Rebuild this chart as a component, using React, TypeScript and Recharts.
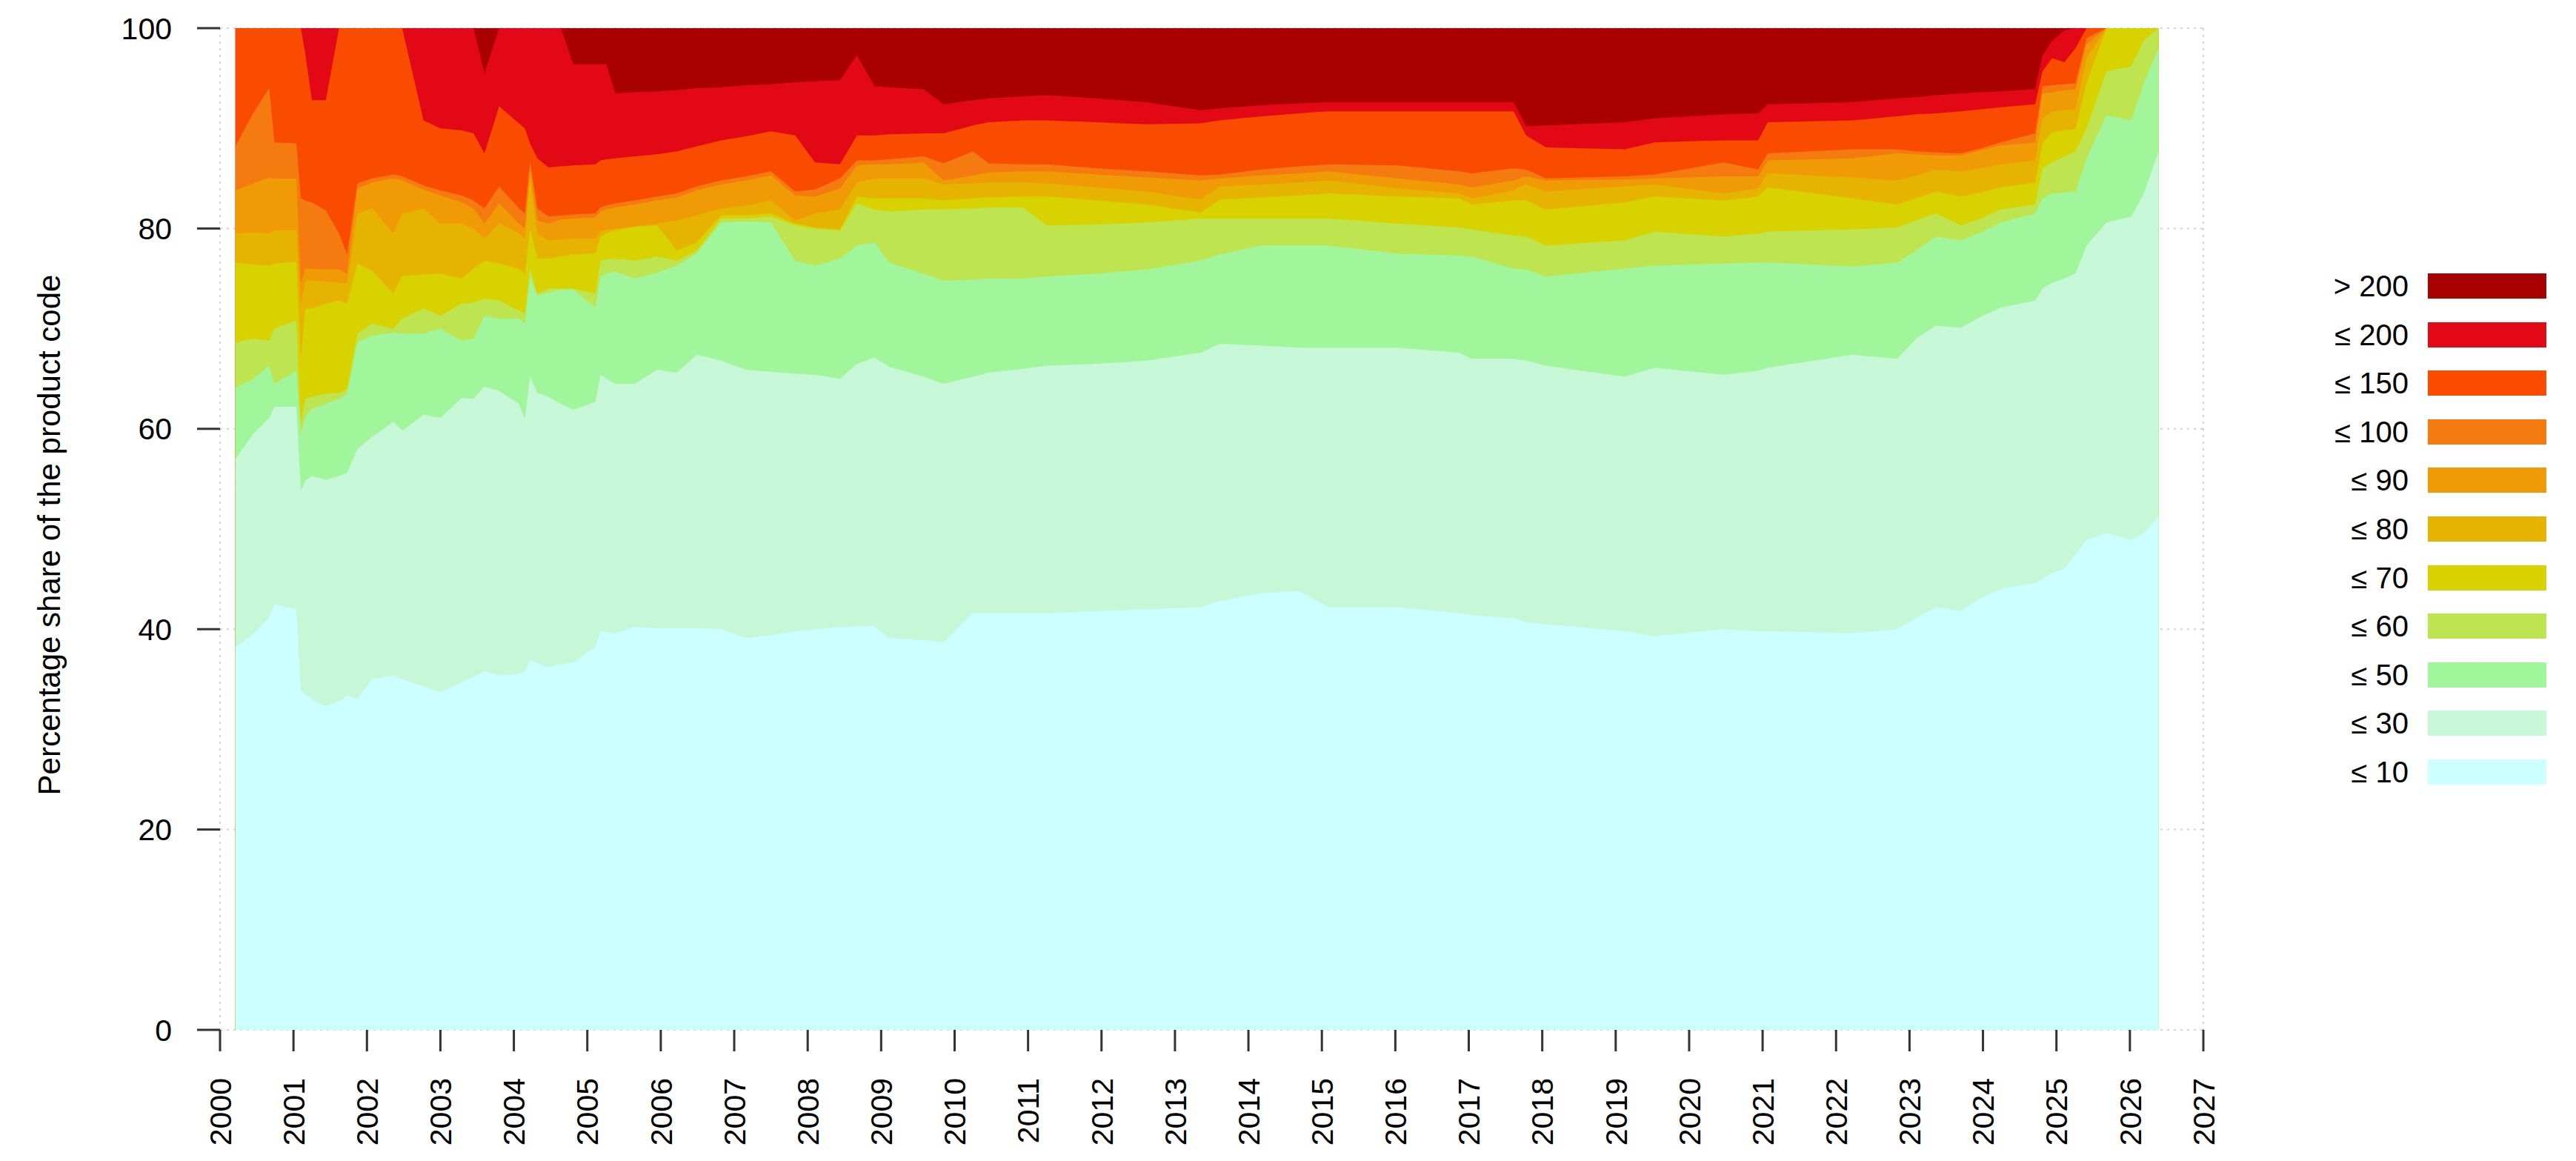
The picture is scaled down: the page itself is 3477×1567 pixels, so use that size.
import React from 'react';
import { AreaChart, Area, XAxis, YAxis, CartesianGrid } from 'recharts';

// sample dates (decimal years)
const years = [
  2000.21, 2000.45, 2000.67, 2000.74, 2001.04, 2001.1, 2001.16, 2001.25, 2001.44, 2001.62, 2001.73, 2001.87, 2002.07,
  2002.36, 2002.48, 2002.77, 2003.0, 2003.29, 2003.45, 2003.6, 2003.8, 2004.07, 2004.15, 2004.22, 2004.32, 2004.47,
  2004.64, 2004.81, 2005.11, 2005.18, 2005.26, 2005.38, 2005.65, 2005.95, 2006.22, 2006.49, 2006.82, 2007.16, 2007.5,
  2007.83, 2008.1, 2008.44, 2008.67, 2008.91,
  2009.11, 2009.58, 2009.85, 2010.25, 2010.46, 2010.93, 2011.26, 2011.94, 2012.61, 2013.35,
  2013.61, 2014.18, 2014.69, 2015.09, 2016.03, 2016.87, 2017.04, 2017.61,
  2017.78, 2018.05, 2019.12, 2019.53, 2020.47, 2020.94, 2021.07, 2022.22,
  2022.83, 2023.09, 2023.36, 2023.7, 2023.97, 2024.24, 2024.71, 2024.81, 2024.94, 2025.11, 2025.26, 2025.41, 2025.68,
  2026.02, 2026.19, 2026.39,
];

// cumulative share (%) of codes at or below each threshold
const le10 = [
  38.2, 39.5, 41.2, 42.5, 42.0, 33.8, 33.5, 33.0, 32.3, 32.8, 33.4, 33.0, 35.0, 35.4, 35.0, 34.3, 33.7, 34.7, 35.2, 35.8,
  35.4, 35.5, 35.8, 36.9, 36.6, 36.2,
  36.5, 36.7, 38.2, 39.8, 39.7, 39.6, 40.2, 40.1, 40.1, 40.1, 40.0, 39.1, 39.4, 39.8, 40.0, 40.2, 40.3, 40.3,
  39.1, 38.9, 38.7, 41.6, 41.6, 41.6, 41.6, 41.8, 42.0, 42.2,
  42.8, 43.6, 43.8, 42.2, 42.2, 41.6, 41.4, 41.1,
  40.7, 40.5, 39.8, 39.3, 40.0, 39.8, 39.8, 39.6,
  40.0, 41.1, 42.2, 41.8, 43.1, 44.0, 44.6, 45.0, 45.6, 46.0, 47.5, 48.9, 49.6, 48.9, 49.6, 51.3,
];
const le30 = [
  57.0, 59.5, 61.1, 62.2, 62.2, 53.8, 54.8, 55.3, 54.9, 55.3, 55.6, 58.0, 59.2, 60.7, 59.8, 61.4, 61.1, 63.1, 63.0, 64.2,
  63.8, 62.5, 61.0, 65.2, 63.6, 63.2,
  62.5, 61.9, 62.7, 65.4, 65.0, 64.5, 64.5, 65.9, 65.6, 67.4, 66.8, 65.9, 65.7, 65.5, 65.4, 65.0, 66.5, 67.1,
  66.2, 65.2, 64.5, 65.2, 65.6, 66.0, 66.3, 66.5, 66.8, 67.6,
  68.5, 68.3, 68.1, 68.1, 68.1, 67.6, 67.0, 67.0,
  66.8, 66.3, 65.2, 66.1, 65.4, 65.8, 66.1, 67.4,
  67.0, 69.0, 70.3, 70.1, 71.2, 72.1, 72.8, 74.0, 74.6, 75.0, 75.5, 78.3, 80.6, 81.2, 83.5, 87.7,
];
const le50 = [
  64.1, 65.0, 66.3, 64.5, 65.8, 59.5, 61.2, 62.0, 62.5, 63.0, 63.5, 68.6, 69.3, 69.6, 69.5, 69.5, 70.0, 68.8, 69.0, 71.3,
  71.0, 71.0, 70.5, 75.1, 73.3, 73.6,
  73.9, 73.9, 72.1, 75.2, 75.5, 75.7, 75.0, 75.6, 76.3, 77.5, 80.6, 80.7, 80.6, 76.8, 76.3, 77.0, 78.3, 78.6,
  76.6, 75.5, 74.8, 74.9, 75.0, 75.0, 75.2, 75.5, 75.9, 76.8,
  77.4, 78.3, 78.3, 78.3, 77.5, 77.3, 77.2, 76.0,
  75.9, 75.2, 76.0, 76.3, 76.5, 76.6, 76.6, 76.2,
  76.6, 77.8, 79.2, 78.8, 79.6, 80.6, 81.5, 83.0, 83.5, 83.6, 83.7, 87.0, 91.3, 90.8, 94.5, 98.0,
];
const le60 = [
  68.6, 69.0, 68.8, 70.0, 70.8, 60.5, 63.0, 63.2, 63.5, 63.6, 64.0, 69.5, 70.5, 70.0, 71.0, 72.0, 71.3, 72.5, 72.6, 73.0,
  72.8, 71.8, 71.5, 76.0, 73.5, 74.0,
  74.0, 74.0, 73.5, 76.8, 76.9, 77.0, 76.8, 77.2, 76.8, 77.8, 81.0, 81.0, 81.2, 80.3, 80.0, 79.8, 82.5, 81.9,
  81.7, 81.9, 81.9, 82.0, 82.1, 82.1, 80.3, 80.4, 80.6, 81.0,
  81.0, 81.0, 81.0, 81.0, 80.5, 80.1, 79.9, 79.3,
  79.2, 78.3, 78.8, 79.7, 79.2, 79.5, 79.7, 79.9,
  80.1, 80.8, 81.5, 80.3, 81.0, 81.9, 82.4, 86.0, 86.6, 87.2, 87.7, 90.0, 95.7, 96.2, 98.8, 100,
];
const le70 = [
  76.6, 76.4, 76.3, 76.5, 76.7, 67.0, 72.0, 72.0, 72.5, 72.8, 72.5, 76.5, 75.8, 73.5, 75.3, 75.4, 75.5, 75.0, 76.0, 76.8,
  76.5, 76.0, 75.5, 80.0, 77.0, 77.0,
  77.2, 77.4, 77.5, 79.2, 79.5, 79.8, 80.2, 80.3, 77.8, 78.6, 81.3, 81.3, 81.5, 80.5, 80.1, 79.9, 83.2, 83.0,
  83.0, 83.0, 82.8, 83.0, 83.1, 83.2, 83.2, 82.8, 82.4, 81.6,
  82.9, 83.1, 83.3, 83.5, 83.2, 83.0, 82.4, 82.8,
  82.8, 81.9, 82.6, 83.2, 82.8, 83.2, 84.1, 83.0,
  82.4, 83.0, 83.7, 83.2, 83.6, 84.1, 84.6, 88.5, 89.6, 89.8, 89.9, 94.5, 100, 100, 100, 100,
];
const le80 = [
  79.5, 79.6, 79.5, 79.8, 79.8, 72.5, 74.8, 74.8, 74.7, 74.6, 74.5, 81.5, 82.0, 79.5, 81.5, 82.0, 80.5, 80.5, 80.0, 79.0,
  80.5, 79.5, 79.0, 85.0, 79.5, 78.8,
  78.9, 79.0, 79.0, 79.7, 79.9, 80.0, 80.2, 80.5, 80.8, 81.3, 82.0, 82.3, 82.8, 80.8, 81.5, 81.9, 84.6, 85.0,
  85.0, 85.0, 84.4, 84.5, 84.6, 84.6, 84.5, 84.1, 83.7, 82.9,
  84.2, 84.4, 84.6, 84.8, 84.0, 83.5, 83.0, 83.8,
  84.4, 83.7, 84.2, 84.4, 83.5, 84.0, 85.5, 85.1,
  84.8, 85.3, 85.9, 85.7, 86.0, 86.4, 86.8, 91.0, 91.7, 91.8, 91.9, 97.0, 100, 100, 100, 100,
];
const le90 = [
  83.8, 84.5, 85.1, 85.0, 85.0, 74.5, 76.0, 76.0, 75.9, 75.9, 75.5, 84.0, 84.6, 85.0, 84.8, 83.9, 83.3, 82.6, 82.0, 80.5,
  82.5, 80.5, 80.0, 86.0, 80.8, 80.5,
  80.9, 81.0, 81.1, 81.7, 81.9, 82.1, 82.4, 82.8, 83.1, 83.8, 84.4, 84.8, 85.3, 83.3, 83.2, 84.0, 86.3, 86.4,
  86.4, 86.6, 84.8, 85.3, 85.6, 85.7, 85.7, 85.4, 85.1, 84.8,
  85.0, 85.3, 85.5, 85.7, 85.0, 84.4, 84.1, 84.8,
  85.2, 84.8, 84.9, 85.0, 85.2, 85.2, 86.8, 87.0,
  87.5, 87.4, 87.3, 87.3, 87.8, 88.3, 88.6, 93.5, 93.6, 93.8, 93.9, 98.4, 100, 100, 100, 100,
];
const le100 = [
  88.2, 91.5, 94.0, 88.6, 88.5, 83.0, 82.8, 82.6, 81.8, 79.5, 77.4, 84.5, 85.0, 85.4, 85.2, 84.3, 83.8, 83.3, 82.8, 82.0,
  84.2, 82.0, 81.5, 86.7, 82.0, 81.2,
  81.3, 81.4, 81.5, 82.1, 82.3, 82.5, 82.8, 83.2, 83.5, 84.2, 84.8, 85.2, 85.7, 83.7, 83.9, 85.0, 86.8, 86.8,
  86.9, 87.2, 86.5, 87.7, 86.5, 86.4, 86.4, 86.0, 85.7, 85.3,
  85.4, 85.9, 86.2, 86.4, 86.3, 85.7, 85.5, 86.0,
  85.9, 85.0, 85.2, 85.4, 86.6, 85.9, 87.5, 87.9,
  87.9, 87.7, 87.6, 87.5, 88.0, 88.6, 89.5, 94.2, 94.3, 94.4, 94.5, 99.0, 100, 100, 100, 100,
];
const le150 = [
  100, 100, 100, 100, 100, 100, 97.5, 92.8, 92.8, 100, 100, 100, 100, 100, 100, 90.8, 90.0, 89.8, 89.5, 87.5,
  92.2, 90.5, 90.0, 88.5, 87.0, 86.1,
  86.2, 86.3, 86.4, 86.8, 86.9, 87.0, 87.2, 87.4, 87.7, 88.2, 88.8, 89.2, 89.7, 89.3, 86.6, 86.4, 89.3, 89.3,
  89.4, 89.5, 89.5, 90.3, 90.6, 90.8, 90.8, 90.6, 90.4, 90.5,
  90.8, 91.2, 91.5, 91.7, 91.7, 91.7, 91.7, 91.7,
  89.3, 88.1, 87.9, 88.6, 88.8, 88.8, 90.6, 90.8,
  91.2, 91.4, 91.5, 91.7, 91.9, 92.1, 92.4, 95.7, 97.0, 96.6, 98.0, 100, 100, 100, 100, 100,
];
const le200 = [
  100, 100, 100, 100, 100, 100, 100, 100, 100, 100, 100, 100, 100, 100, 100, 100, 100, 100, 100, 95.5,
  100, 100, 100, 100, 100, 100,
  100, 96.4, 96.4, 96.4, 96.4, 93.5, 93.6, 93.7, 93.8, 94.0, 94.1, 94.3, 94.4, 94.6, 94.7, 94.8, 97.3, 94.2,
  94.1, 93.9, 92.4, 92.8, 93.0, 93.2, 93.3, 93.0, 92.6, 91.8,
  92.0, 92.3, 92.5, 92.6, 92.6, 92.6, 92.6, 92.6,
  90.2, 90.3, 90.6, 91.0, 91.4, 91.5, 92.4, 92.6,
  93.0, 93.1, 93.3, 93.5, 93.6, 93.7, 93.9, 97.3, 98.7, 99.8, 100, 100, 100, 100, 100, 100,
];

const bandLabels = ['≤ 10', '≤ 30', '≤ 50', '≤ 60', '≤ 70', '≤ 80', '≤ 90', '≤ 100', '≤ 150', '≤ 200', '> 200'];
const bandColors = [
  '#CCFFFF', '#C6F7D6', '#A1F59A', '#BEE450', '#D8D200', '#E6B400', '#F09A06', '#F57A10', '#FA4C00', '#E30815', '#A90000',
];

const xTicks = [
  2000, 2001, 2002, 2003, 2004, 2005, 2006, 2007, 2008, 2009, 2010, 2011, 2012, 2013, 2014, 2015, 2016, 2017, 2018, 2019,
  2020, 2021, 2022, 2023, 2024, 2025, 2026, 2027,
];
const yTicks = [0, 20, 40, 60, 80, 100];

const cumulative = [le10, le30, le50, le60, le70, le80, le90, le100, le150, le200];

// each area is filled from 0 up to its cumulative share; the widest one (all codes) is 100 %
const rows = years.map((year, i) => {
  const row: Record<string, number> = { year };
  cumulative.forEach((arr, k) => {
    row[`c${k}`] = arr[i];
  });
  row.c10 = 100;
  return row;
});

const FONT = '"Liberation Sans", Arial, Helvetica, sans-serif';

const XTick = (props: any) => {
  const { x, y, payload } = props;
  return (
    <text
      x={x}
      y={y}
      dy="0.36em"
      transform={`rotate(-90, ${x}, ${y})`}
      textAnchor="end"
      fontSize={41}
      fontFamily={FONT}
      fill="#000"
    >
      {payload.value}
    </text>
  );
};

export default function App() {
  const drawOrder = bandLabels.map((_, i) => i).reverse();
  return (
    <div style={{ position: 'absolute', left: 0, top: 0, width: 3477, height: 1567, background: '#fff', overflow: 'hidden' }}>
      <AreaChart width={3477} height={1567} data={rows} margin={{ top: 38, right: 463, bottom: 27, left: 197 }}>
        <CartesianGrid stroke="#D3D3D3" strokeWidth={2} strokeDasharray="3 6" />
        <XAxis
          dataKey="year"
          type="number"
          domain={[2000, 2027]}
          ticks={xTicks}
          interval={0}
          allowDataOverflow
          height={150}
          axisLine={false}
          tickLine={{ stroke: '#333', strokeWidth: 3 }}
          tickSize={29}
          tickMargin={36}
          tick={<XTick />}
        />
        <YAxis
          type="number"
          domain={[0, 100]}
          ticks={yTicks}
          interval={0}
          width={100}
          axisLine={false}
          tickLine={{ stroke: '#333', strokeWidth: 3 }}
          tickSize={31}
          tickMargin={34}
          tick={{ fontSize: 41, fill: '#000', fontFamily: FONT }}
        />
        <YAxis
          yAxisId="r"
          orientation="right"
          type="number"
          domain={[0, 100]}
          ticks={yTicks}
          interval={0}
          width={40}
          axisLine={false}
          tickLine={{ stroke: '#333', strokeWidth: 3 }}
          tickSize={31}
          tick={false}
        />
        {drawOrder.map((k) => (
          <Area
            key={`c${k}`}
            dataKey={`c${k}`}
            name={bandLabels[k]}
            type="linear"
            baseValue={0}
            fill={bandColors[k]}
            fillOpacity={1}
            stroke="none"
            dot={false}
            activeDot={false}
            isAnimationActive={false}
          />
        ))}
      </AreaChart>

      <div
        style={{
          position: 'absolute',
          left: 67,
          top: 722,
          transform: 'translate(-50%, -50%) rotate(-90deg)',
          whiteSpace: 'nowrap',
          fontSize: 42,
          fontFamily: FONT,
          color: '#000',
        }}
      >
        Percentage share of the product code
      </div>

      {drawOrder.map((idx, row) => {
        const cy = 386 + row * 65.6;
        return (
          <React.Fragment key={bandLabels[idx]}>
            <div
              style={{
                position: 'absolute',
                left: 3051,
                width: 200,
                top: cy - 25,
                height: 50,
                lineHeight: '50px',
                textAlign: 'right',
                fontSize: 40,
                fontFamily: FONT,
                color: '#000',
              }}
            >
              {bandLabels[idx]}
            </div>
            <div
              style={{
                position: 'absolute',
                left: 3277,
                width: 160,
                top: cy - 17,
                height: 34,
                background: bandColors[idx],
              }}
            />
          </React.Fragment>
        );
      })}
    </div>
  );
}
